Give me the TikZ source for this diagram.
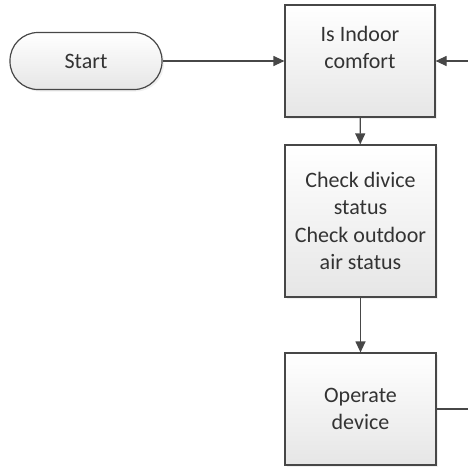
\documentclass[tikz,border=0pt]{standalone}
\usepackage{fontspec}
\setmainfont{Carlito}
\usepackage{tikz}
\usetikzlibrary{arrows.meta,shadows}

\definecolor{edgegray}{HTML}{474747}
\definecolor{fillgray}{HTML}{E6E6E6}

\begin{document}
\begin{tikzpicture}[x=1pt,y=1pt,
		font=\fontsize{22}{27.5}\selectfont,
		box/.style={draw=edgegray,line width=1.2pt,top color=white,bottom color=fillgray,
			align=center,text=black!80,inner sep=0pt,
			drop shadow={opacity=0.12,shadow xshift=2pt,shadow yshift=-2pt}},
		terminal/.style={box,rounded corners=28pt},
		flow/.style={draw=edgegray,line width=1.2pt,-{Triangle[length=11pt,width=10pt]}}]
		\useasboundingbox (0,0) rectangle (468,-467);
		\node[terminal,minimum width=152pt,minimum height=57pt] (start) at (86,-61) {Start};
		\node[box,minimum width=150pt,minimum height=112pt] (comfort) at (360,-61) {Is Indoor\\comfort\\~};
		\node[box,minimum width=151pt,minimum height=152pt] (check) at (360.5,-221) {Check divice\\status\\Check outdoor\\air status};
		\node[box,minimum width=151pt,minimum height=112pt] (operate) at (360.5,-409) {Operate\\device};
		\coordinate (loopin) at (468,-61);
		\coordinate (loopout) at (468,-409);
		\draw[flow] (start) -- (comfort);
		\draw[flow] (loopin) -- (comfort);
		\draw[flow] (comfort) -- (check);
		\draw[flow] (check) -- (operate);
		\draw[draw=edgegray,line width=1.2pt] (operate) -- (loopout);
\end{tikzpicture}
\end{document}
